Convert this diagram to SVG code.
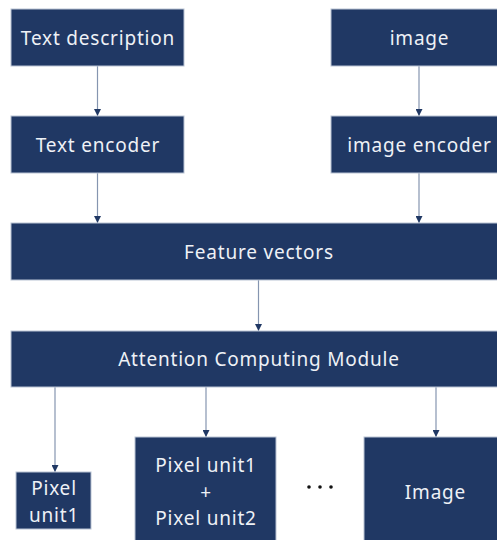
<svg xmlns="http://www.w3.org/2000/svg" width="497" height="540" viewBox="0 0 497 540">
  <defs>
    <style>
      .box { fill: #203864; stroke: #b9c3d4; stroke-width: 1; }
      .lbl { fill: #eef1f6; font-family: "Noto Sans", "Open Sans", "Liberation Sans", sans-serif; font-size: 19px; letter-spacing: 0.8px; text-anchor: middle; dominant-baseline: central; }
      .wire { stroke: #8595b0; stroke-width: 1.2; fill: none; marker-end: url(#tip); }
    </style>
    <marker id="tip" viewBox="0 0 8 8" refX="8" refY="4" markerWidth="7" markerHeight="7" markerUnits="userSpaceOnUse" orient="auto">
      <path d="M0,0 L8,4 L0,8 Z" fill="#203864"/>
    </marker>
  </defs>
  <rect width="497" height="540" fill="#ffffff"/>

  <g id="connectors">
    <line class="wire" x1="97.5" y1="66" x2="97.5" y2="116"/>
    <line class="wire" x1="419" y1="66" x2="419" y2="116"/>
    <line class="wire" x1="97.5" y1="173" x2="97.5" y2="223"/>
    <line class="wire" x1="419" y1="173" x2="419" y2="223"/>
    <line class="wire" x1="258.5" y1="280" x2="258.5" y2="331"/>
    <line class="wire" x1="55" y1="387" x2="55" y2="472"/>
    <line class="wire" x1="206" y1="387" x2="206" y2="437"/>
    <line class="wire" x1="436" y1="387" x2="436" y2="437"/>
  </g>

  <g id="text-description">
    <rect class="box" x="11" y="9" width="173" height="57"/>
    <text class="lbl" x="98" y="38">Text description</text>
  </g>
  <g id="image-input">
    <rect class="box" x="331" y="9" width="176" height="57"/>
    <text class="lbl" x="419.5" y="38">image</text>
  </g>
  <g id="text-encoder">
    <rect class="box" x="11" y="116" width="173" height="57"/>
    <text class="lbl" x="98" y="145">Text encoder</text>
  </g>
  <g id="image-encoder">
    <rect class="box" x="331" y="116" width="176" height="57"/>
    <text class="lbl" x="419.5" y="145">image encoder</text>
  </g>
  <g id="feature-vectors">
    <rect class="box" x="11" y="223" width="496" height="57"/>
    <text class="lbl" x="259" y="252">Feature vectors</text>
  </g>
  <g id="attention-module">
    <rect class="box" x="11" y="331" width="496" height="56"/>
    <text class="lbl" x="259" y="359">Attention Computing Module</text>
  </g>
  <g id="pixel-unit1">
    <rect class="box" x="16" y="472" width="75" height="57"/>
    <text class="lbl" x="54" y="488">Pixel</text>
    <text class="lbl" x="54" y="515">unit1</text>
  </g>
  <g id="pixel-unit-sum">
    <rect class="box" x="135" y="437" width="141" height="110"/>
    <text class="lbl" x="206" y="465">Pixel unit1</text>
    <text class="lbl" x="206" y="492">+</text>
    <text class="lbl" x="206" y="518">Pixel unit2</text>
  </g>
  <g id="ellipsis">
    <circle cx="309" cy="487" r="1.8" fill="#111111"/>
    <circle cx="320" cy="487" r="1.8" fill="#111111"/>
    <circle cx="331" cy="487" r="1.8" fill="#111111"/>
  </g>
  <g id="image-output">
    <rect class="box" x="364" y="437" width="141" height="110"/>
    <text class="lbl" x="435.5" y="492">Image</text>
  </g>
</svg>
